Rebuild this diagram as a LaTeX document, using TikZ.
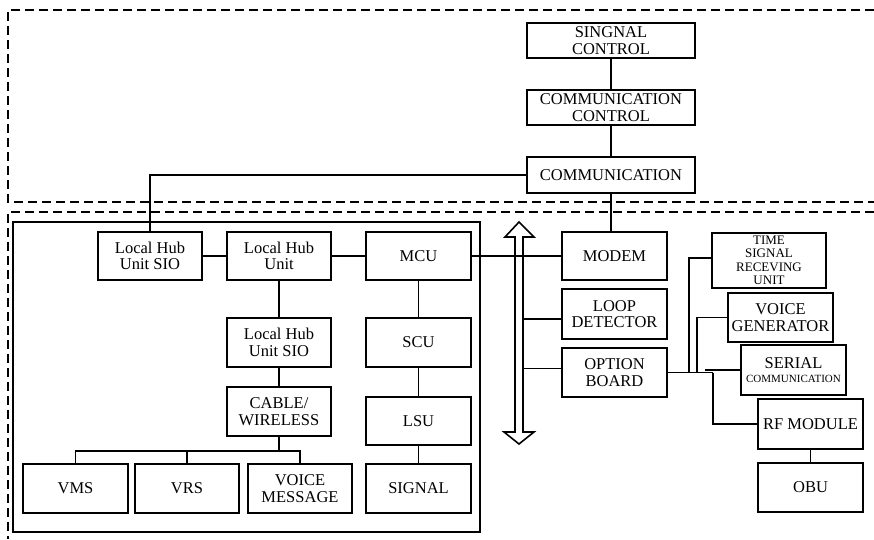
\documentclass[tikz,border=0pt]{standalone}
\usepackage{fontspec}
\setmainfont{Liberation Serif}
\begin{document}
\begin{tikzpicture}[x=1pt,y=-1pt,
  blk/.style={draw, line width=2pt, align=center, inner sep=1pt,
    font=\fontsize{16.5}{16.5}\selectfont},
  wire/.style={line width=1.6pt},
  zone/.style={line width=1.6pt, dash pattern=on 9pt off 5pt},
  busarrow/.style={line width=1.6pt, line join=miter}]
\useasboundingbox (0,0) rectangle (874,539);

% dashed zones
\draw[zone] (874,10) -- (8,10) -- (8,202) -- (874,202);
\draw[zone] (874,212) -- (8,212) -- (8,539);
% local controller frame
\draw[line width=1.5pt] (13,222) rectangle (480,532);

% upper level
\node[blk, minimum width=168, minimum height=35] (sigctl) at (611,40.5) {SINGNAL\\CONTROL};
\node[blk, minimum width=168, minimum height=35] (comctl) at (611,107.5) {COMMUNICATION\\CONTROL};
\node[blk, minimum width=168, minimum height=36] (comm) at (611,175) {COMMUNICATION};

% local controller
\node[blk, minimum width=104, minimum height=48] (lhsioa) at (150,256) {Local Hub\\Unit SIO};
\node[blk, minimum width=104, minimum height=48] (lhu) at (279,256) {Local Hub\\Unit};
\node[blk, minimum width=105, minimum height=48] (mcu) at (418.5,256) {MCU};
\node[blk, minimum width=104, minimum height=49] (lhsiob) at (279,342.5) {Local Hub\\Unit SIO};
\node[blk, minimum width=104, minimum height=49] (cable) at (279,411.5) {CABLE/\\WIRELESS};
\node[blk, minimum width=105, minimum height=49] (vms) at (75.5,488.5) {VMS};
\node[blk, minimum width=104, minimum height=49] (vrs) at (187,488.5) {VRS};
\node[blk, minimum width=104, minimum height=49] (vmsg) at (300,488.5) {VOICE\\MESSAGE};
\node[blk, minimum width=105, minimum height=49] (scu) at (418.5,342.5) {SCU};
\node[blk, minimum width=105, minimum height=48] (lsu) at (418.5,421) {LSU};
\node[blk, minimum width=105, minimum height=49] (signal) at (418.5,488.5) {SIGNAL};

% boards on the bus
\node[blk, minimum width=105, minimum height=48] (modem) at (614.5,256) {MODEM};
\node[blk, minimum width=105, minimum height=50] (loop) at (614.5,314) {LOOP\\DETECTOR};
\node[blk, minimum width=105, minimum height=49] (option) at (614.5,372.5) {OPTION\\BOARD};

% option board peripherals
\node[blk, minimum width=114, minimum height=55, font=\fontsize{13}{13.5}\selectfont] (time) at (769,260.5) {TIME\\SIGNAL\\RECEVING\\UNIT};
\node[blk, minimum width=105, minimum height=49] (voice) at (780.5,317.5) {VOICE\\GENERATOR};
\node[blk, minimum width=105, minimum height=50] (serial) at (793.5,370) {SERIAL\\[-2pt]{\fontsize{11}{11}\selectfont COMMUNICATION}};
\node[blk, minimum width=105, minimum height=50] (rf) at (810.5,424) {RF MODULE};
\node[blk, minimum width=105, minimum height=49] (obu) at (810.5,487.5) {OBU};

% system bus (double-headed hollow arrow)
\coordinate (bustop) at (519,222);
\coordinate (busbot) at (519,444);
\draw[busarrow] (bustop) -- ++(15,15) -- ++(-11,0) -- (523,432) -- ++(11,0)
  -- (busbot) -- ++(-15,-12) -- ++(11,0) -- (515,237) -- ++(-10,0) -- cycle;
\coordinate (busR) at (523,0);

% connectors
\draw[wire] (sigctl.south) -- (comctl.north);
\draw[wire] (comctl.south) -- (comm.north);
\draw[wire] (comm.south) -- (comm.south |- modem.north);
\draw[wire] (comm.west) -| (lhsioa.north);
\draw[wire] (lhsioa.east) -- (lhu.west);
\draw[wire] (lhu.east) -- (mcu.west);
\draw[wire] (mcu.east) -- (modem.west);
\draw[wire] (lhu.south) -- (lhsiob.north);
\draw[wire] (lhsiob.south) -- (cable.north);
\draw[wire] (cable.south) -- ++(0,14) coordinate (bus);
\draw[wire] (vms.north) -- (vms.north |- bus) -- (vmsg.north |- bus) -- (vmsg.north);
\draw[wire] (vrs.north) -- (vrs.north |- bus);
\draw[wire] (mcu.south) -- (scu.north);
\draw[wire] (scu.south) -- (lsu.north);
\draw[wire] (lsu.south) -- (signal.north);
\draw[wire] ([yshift=-5]loop.west) -- ([yshift=-5]loop.west -| busR);
\draw[wire] ([yshift=4]option.west) -- ([yshift=4]option.west -| busR);

% option board fan-out
\draw[wire] (option.east) -- (713,372.5) coordinate (fan);
\draw[wire] (689,372.5) |- ([yshift=2.5]time.west);
\draw[wire] (697,372.5) |- (voice.west);
\draw[wire] (705,370) -- (serial.west);
\draw[wire] (fan) |- (rf.west);
\draw[wire] (rf.south) -- (obu.north);
\end{tikzpicture}
\end{document}
